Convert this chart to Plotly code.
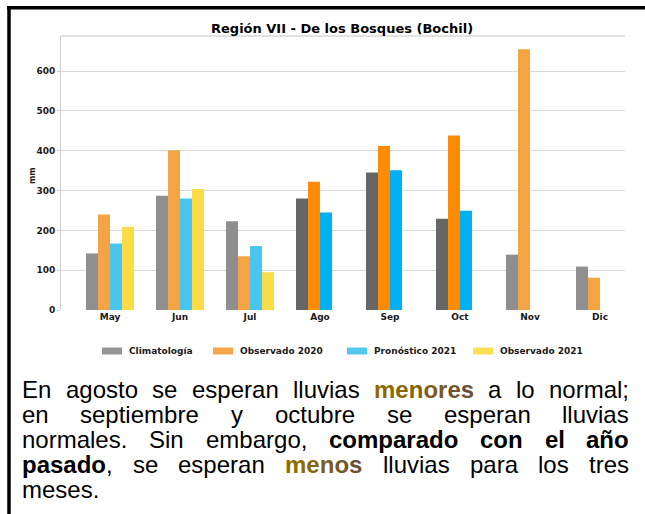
import plotly.graph_objects as go

# ---------------- data ----------------
months = ["May", "Jun", "Jul", "Ago", "Sep", "Oct", "Nov", "Dic"]
climatologia = [142, 287, 223, 280, 345, 229, 139, 109]
observado_2020 = [240, 401, 135, 322, 412, 438, 655, 81]
pronostico_2021 = [167, 280, 161, 245, 351, 249, None, None]
observado_2021 = [209, 304, 95, None, None, None, None, None]
series_names = ["Climatología", "Observado 2020", "Pronóstico 2021", "Observado 2021"]
highlight_months = ["Ago", "Sep", "Oct"]
y_ticks = [0, 100, 200, 300, 400, 500, 600]
chart_title = "Región VII - De los Bosques (Bochil)"
y_label = "mm"

# paragraph: lines -> words -> segments (text, style)  r=regular b=bold c=bold coloured
paragraph = [
    [[("En", "r")], [("agosto", "r")], [("se", "r")], [("esperan", "r")], [("lluvias", "r")],
     [("menores", "c")], [("a", "r")], [("lo", "r")], [("normal;", "r")]],
    [[("en", "r")], [("septiembre", "r")], [("y", "r")], [("octubre", "r")], [("se", "r")],
     [("esperan", "r")], [("lluvias", "r")]],
    [[("normales.", "r")], [("Sin", "r")], [("embargo,", "r")], [("comparado", "b")],
     [("con", "b")], [("el", "b")], [("año", "b")]],
    [[("pasado", "b"), (",", "r")], [("se", "r")], [("esperan", "r")], [("menos", "c")],
     [("lluvias", "r")], [("para", "r")], [("los", "r")], [("tres", "r")]],
    [[("meses.", "r")]],
]

# ---------------- geometry ----------------
W, H = 645, 514
ML, MR, MT, MB = 61, 20, 36, 204
PW, PH = W - ML - MR, H - MT - MB


def px(x):
    return (x - ML) / PW


def py(y):
    return (H - MB - y) / PH


strong = ["#666666", "#ff8c00", "#00b0f0", "#ffd21a"]
light = ["#8f8f8f", "#f5a443", "#48c6f0", "#fbdc48"]
legend_cols = ["#959595", "#f5a64a", "#55c8ef", "#fbdf55"]

fig = go.Figure()
for i, (name, vals) in enumerate(zip(series_names,
                                     [climatologia, observado_2020, pronostico_2021, observado_2021])):
    cols = [strong[i] if m in highlight_months else light[i] for m in months]
    fig.add_trace(go.Bar(x=months, y=vals, name=name, marker=dict(color=cols, line=dict(width=0)),
                         showlegend=False))

fig.update_layout(
    width=W, height=H,
    margin=dict(l=ML, r=MR, t=MT, b=MB),
    paper_bgcolor="white", plot_bgcolor="white",
    barmode="group", bargap=0.314, bargroupgap=0,
    xaxis=dict(type="category", range=[-0.7, 7.357], showgrid=False, showline=False,
               zeroline=False, ticks="",
               tickfont=dict(family="DejaVu Sans", size=9, color="#1a1a1a", weight="bold")),
    yaxis=dict(range=[0, 688], tickvals=y_ticks, showgrid=True, gridcolor="#d9d9d9", gridwidth=1,
               zeroline=False, showline=True, linecolor="#cfcfcf", linewidth=1,
               ticks="outside", ticklen=3, tickcolor="#cfcfcf",
               tickfont=dict(family="DejaVu Sans", size=9, color="#1a1a1a", weight="bold")),
)

shapes = []
annotations = []
# top spine
shapes.append(dict(type="line", xref="paper", yref="paper", x0=0, x1=1, y0=1, y1=1,
                   line=dict(color="#c4c4c4", width=1)))
# outer border (top + left)
shapes.append(dict(type="line", xref="paper", yref="paper", x0=px(7), x1=px(646), y0=py(7.7), y1=py(7.7),
                   line=dict(color="black", width=3.5)))
shapes.append(dict(type="line", xref="paper", yref="paper", x0=px(9), x1=px(9), y0=py(6), y1=py(516),
                   line=dict(color="black", width=3.5)))

# title and y label
annotations.append(dict(xref="paper", yref="paper", x=px(342), y=py(28), text="<b>%s</b>" % chart_title,
                        showarrow=False, xanchor="center", yanchor="middle", borderpad=0, borderwidth=0,
                        font=dict(family="DejaVu Sans", size=13, color="black")))
annotations.append(dict(xref="paper", yref="paper", x=px(32), y=py(176), text="<b>%s</b>" % y_label,
                        showarrow=False, textangle=-90, xanchor="center", yanchor="middle",
                        font=dict(family="DejaVu Sans", size=8, color="#1a1a1a")))

# custom legend
sw_x = [102, 213, 347, 473]
for i, name in enumerate(series_names):
    shapes.append(dict(type="rect", xref="paper", yref="paper", x0=px(sw_x[i]), x1=px(sw_x[i] + 20),
                       y0=py(354.5), y1=py(347.5), fillcolor=legend_cols[i], line=dict(width=0)))
    annotations.append(dict(xref="paper", yref="paper", x=px(sw_x[i] + 27), y=py(351), text="<b>%s</b>" % name,
                            showarrow=False, xanchor="left", yanchor="middle", borderpad=0, borderwidth=0,
                            font=dict(family="DejaVu Sans", size=9, color="#1a1a1a")))

# ---------------- justified paragraph ----------------
REG = {' ': 278, '.': 278, ',': 278, ';': 278, 'E': 667, 'S': 667, 'a': 556, 'b': 556, 'c': 500, 'd': 556,
       'e': 556, 'g': 556, 'i': 222, 'l': 222, 'm': 833, 'n': 556, 'ñ': 556, 'o': 556, 'p': 556, 'r': 333,
       's': 500, 't': 278, 'u': 556, 'v': 500, 'y': 500}
BOLD = {' ': 278, '.': 278, ',': 278, ';': 333, 'E': 667, 'S': 667, 'a': 556, 'b': 611, 'c': 556, 'd': 611,
        'e': 556, 'g': 611, 'i': 278, 'l': 278, 'm': 889, 'n': 611, 'ñ': 611, 'o': 611, 'p': 611, 'r': 389,
        's': 556, 't': 333, 'u': 611, 'v': 556, 'y': 556}
FS = 24
LEFT, RIGHT = 22, 629
baselines = [398, 423, 448, 473, 498]
c0, c1 = (0x8c, 0x6d, 0x00), (0x6a, 0x50, 0x36)


def seg_width(t, st):
    tab = REG if st == "r" else BOLD
    return sum(tab.get(ch, 556) for ch in t) * FS / 1000.0


def seg_html(t, st):
    if st == "r":
        return t
    if st == "b":
        return "<b>%s</b>" % t
    out = []
    n = len(t)
    for k, ch in enumerate(t):
        f = k / max(n - 1, 1)
        col = "#%02x%02x%02x" % tuple(int(round(a + (b - a) * f)) for a, b in zip(c0, c1))
        out.append("<span style='color:%s'>%s</span>" % (col, ch))
    return "<b>%s</b>" % "".join(out)


for li, line in enumerate(paragraph):
    widths = [sum(seg_width(t, s) for t, s in w) for w in line]
    last = li == len(paragraph) - 1
    if last or len(line) == 1:
        gap = REG[' '] * FS / 1000.0
    else:
        gap = (RIGHT - LEFT - sum(widths)) / (len(line) - 1)
    x = LEFT
    yc = baselines[li] - 0.345 * FS
    for w, wd in zip(line, widths):
        annotations.append(dict(xref="paper", yref="paper", x=px(x), y=py(yc),
                                text="".join(seg_html(t, s) for t, s in w),
                                showarrow=False, xanchor="left", yanchor="middle",
                                borderpad=0, borderwidth=0,
                                font=dict(family="Liberation Sans", size=FS, color="black")))
        x += wd + gap

fig.update_layout(shapes=shapes, annotations=annotations)
fig.write_html("out.html", config={"displayModeBar": False},
               post_script="document.body.style.margin='0px';"
                           "document.documentElement.style.overflow='hidden';")
